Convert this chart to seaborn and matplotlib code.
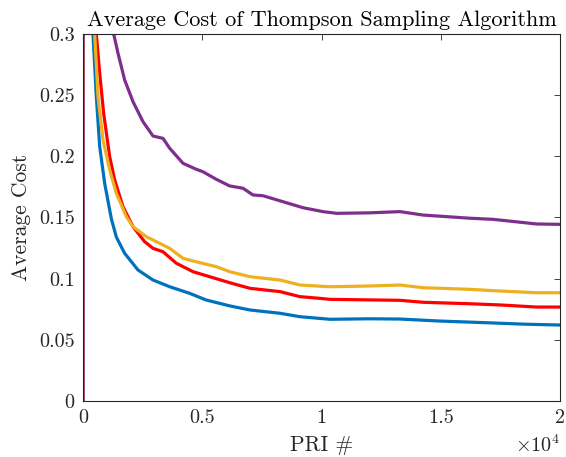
import matplotlib
matplotlib.use("Agg")
import matplotlib.pyplot as plt
import seaborn as sns
import pandas as pd

# ---- data ----
blue_x = [0, 1, 200, 419, 558, 700, 908, 1188, 1398, 1747, 2306, 2935, 3634, 4473, 5157,
          6164, 7002, 8260, 9099, 10356, 12000, 13291, 14900, 16900, 18500, 20000]
blue_y = [0, 1.0, 0.5, 0.3, 0.249, 0.208, 0.178, 0.149, 0.134, 0.1207, 0.1071, 0.0989, 0.0934,
          0.088, 0.0826, 0.0777, 0.0744, 0.0717, 0.0689, 0.0668, 0.0672, 0.067, 0.0654, 0.064,
          0.0628, 0.0621]

red_x = [0, 1, 300, 558, 700, 867, 1119, 1328, 1677, 2096, 2586, 2935, 3354, 3913, 4613, 5310,
         6150, 7002, 8260, 9099, 9937, 10356, 13291, 14260, 16226, 17500, 19020, 20000]
red_y = [0, 1.0, 0.5, 0.3, 0.268, 0.235, 0.1997, 0.1807, 0.1588, 0.1425, 0.1302, 0.1248, 0.122,
         0.1126, 0.1057, 0.1016, 0.0967, 0.0921, 0.0894, 0.0853, 0.0839, 0.0831, 0.0823, 0.0807,
         0.0795, 0.0785, 0.0768, 0.0768]

orange_x = [0, 1, 250, 490, 629, 839, 1119, 1398, 1817, 2096, 2655, 3215, 3634, 4193, 4892, 5590,
            6150, 7002, 8260, 9099, 10356, 12000, 13291, 14260, 16226, 17190, 19020, 20000]
orange_y = [0, 1.0, 0.5, 0.3, 0.2488, 0.2134, 0.1888, 0.1698, 0.1507, 0.1425, 0.1343, 0.1289,
            0.1248, 0.1166, 0.1131, 0.1098, 0.1057, 0.1016, 0.0989, 0.0948, 0.0934, 0.094, 0.0948,
            0.0926, 0.0913, 0.0902, 0.0885, 0.0885]

purple_x = [0, 1, 600, 1287, 1468, 1747, 2096, 2516, 2935, 3354, 3634, 4193, 4752, 5031, 5590,
            6150, 6709, 7128, 7547, 8386, 9224, 10063, 10637, 12000, 13291, 14260, 16226, 17190,
            19020, 20000]
purple_y = [0, 1.0, 0.6, 0.3, 0.2842, 0.2624, 0.2447, 0.2283, 0.2166, 0.2147, 0.2066, 0.1943,
            0.1894, 0.1874, 0.1812, 0.1758, 0.1739, 0.1684, 0.1678, 0.1629, 0.158, 0.1548, 0.1534,
            0.1538, 0.1548, 0.152, 0.1494, 0.1485, 0.1447, 0.1444]

x_ticks = [0, 5000, 10000, 15000, 20000]
x_tick_labels = ["0", "0.5", "1", "1.5", "2"]
y_ticks = [0, 0.05, 0.1, 0.15, 0.2, 0.25, 0.3]
y_tick_labels = ["0", "0.05", "0.1", "0.15", "0.2", "0.25", "0.3"]

series = [
    (blue_x, blue_y, "#0072BD"),
    (red_x, red_y, "#FF0000"),
    (orange_x, orange_y, "#EDB120"),
    (purple_x, purple_y, "#7E2F8E"),
]

# ---- style ----
sns.set_style("white")
plt.rcParams["font.family"] = ["cmr10", "DejaVu Serif"]
plt.rcParams["mathtext.fontset"] = "cm"
plt.rcParams["axes.formatter.use_mathtext"] = True

fig = plt.figure(figsize=(5.66, 4.57), dpi=100)
ax = fig.add_axes([83 / 566, 1 - 401 / 457, (560 - 83) / 566, (401 - 34) / 457])

for xs, ys, col in series:
    df = pd.DataFrame({"x": xs, "y": ys})
    sns.lineplot(data=df, x="x", y="y", ax=ax, color=col, linewidth=2.3,
                 sort=False, estimator=None)

ax.set_xlim(0, 20000)
ax.set_ylim(0, 0.3)
ax.set_xticks(x_ticks)
ax.set_xticklabels(x_tick_labels)
ax.set_yticks(y_ticks)
ax.set_yticklabels(y_tick_labels)

ax.tick_params(direction="in", length=4, width=0.6, colors="#262626",
               labelsize=14.5, top=True, right=True, pad=6)
for sp in ax.spines.values():
    sp.set_visible(True)
    sp.set_color("#262626")
    sp.set_linewidth(0.8)

ax.set_title("Average Cost of Thompson Sampling Algorithm", fontsize=16, color="#000000", pad=6)
ax.set_xlabel("PRI #", fontsize=15.5, color="#262626", labelpad=6)
ax.set_ylabel("Average Cost", fontsize=15.5, color="#262626", labelpad=6)
ax.text(1.0, -(452 - 401) / 367, r"$\times10^{4}$", transform=ax.transAxes, ha="right",
        va="baseline", fontsize=14.5, color="#262626")

fig.savefig("out.png", dpi=100)
